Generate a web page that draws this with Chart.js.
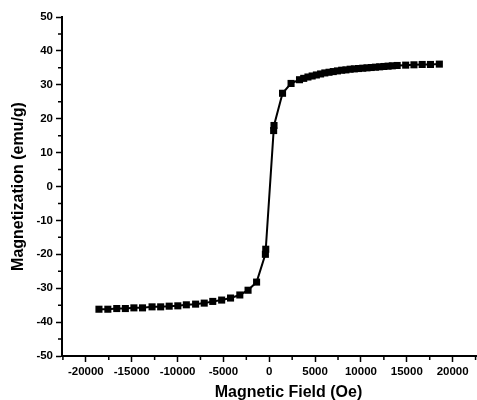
<!DOCTYPE html>
<html>
<head>
<meta charset="utf-8">
<script src="https://cdn.jsdelivr.net/npm/chart.js@4.4.1/dist/chart.umd.min.js"></script>
<style>
  html, body { margin: 0; padding: 0; background: #fff; overflow: hidden; }
  #wrap { width: 520px; height: 400px; }
</style>
</head>
<body>
<div id="wrap"><canvas id="mh" width="520" height="400"></canvas></div>
<script>
// field (Oe) and magnetization (emu/g)
const fieldOe = [
  -18570, -17600, -16630, -15690, -14760, -13820, -12780, -11840, -10910, -9970,
  -9040, -8030, -7090, -6160, -5190, -4220, -3210, -2310, -1380, -420,
  -380, 480, 520, 1450, 2380, 3300, 3760, 4220, 4680, 5140,
  5600, 6060, 6520, 6980, 7440, 7900, 8360, 8820, 9280, 9740,
  10200, 10660, 11120, 11580, 12040, 12500, 12960, 13420, 13950, 14880,
  15780, 16680, 17580, 18550
];
const magnetization = [
  -36.2, -36.2, -36.0, -36.0, -35.8, -35.8, -35.5, -35.5, -35.3, -35.2,
  -34.9, -34.7, -34.4, -33.9, -33.5, -32.9, -32.0, -30.6, -28.2, -20.0,
  -18.5, 16.5, 18.0, 27.5, 30.4, 31.5, 31.9, 32.3, 32.6, 32.9,
  33.2, 33.5, 33.7, 33.9, 34.1, 34.3, 34.4, 34.6, 34.7, 34.8,
  34.9, 35.0, 35.1, 35.2, 35.3, 35.4, 35.5, 35.6, 35.7, 35.8,
  35.9, 36.0, 36.0, 36.1
];

const xMajor = [-20000, -15000, -10000, -5000, 0, 5000, 10000, 15000, 20000];
const xMinor = [-22500, -17500, -12500, -7500, -2500, 2500, 7500, 12500, 17500, 22500];
const yMajor = [-50, -40, -30, -20, -10, 0, 10, 20, 30, 40, 50];
const yMinor = [-45, -35, -25, -15, -5, 5, 15, 25, 35, 45];

const tickFont = { family: "'Liberation Sans', Arial, sans-serif", size: 11.5, weight: 'bold' };
const titleFont = { family: "'Liberation Sans', Arial, sans-serif", size: 16, weight: 'bold', lineHeight: 1 };

// short unlabeled ticks between the labelled ones
const minorTicks = {
  id: 'minorTicks',
  afterDraw(chart) {
    const { ctx, scales: { x, y } } = chart;
    ctx.save();
    ctx.strokeStyle = '#000';
    ctx.lineWidth = 1.5;
    ctx.beginPath();
    xMinor.forEach(v => {
      const px = x.getPixelForValue(v);
      ctx.moveTo(px, x.top);
      ctx.lineTo(px, x.top + 4);
    });
    yMinor.forEach(v => {
      const py = y.getPixelForValue(v);
      ctx.moveTo(y.right, py);
      ctx.lineTo(y.right - 4, py);
    });
    ctx.stroke();
    ctx.restore();
  }
};

new Chart(document.getElementById('mh'), {
  type: 'scatter',
  data: {
    datasets: [{
      data: fieldOe.map((h, i) => ({ x: h, y: magnetization[i] })),
      showLine: true,
      borderColor: '#000',
      borderWidth: 2,
      pointStyle: 'rect',
      pointRadius: 5,
      pointBackgroundColor: '#000',
      pointBorderWidth: 0,
      tension: 0
    }]
  },
  plugins: [minorTicks],
  options: {
    responsive: false,
    animation: false,
    devicePixelRatio: 1,
    layout: { padding: { top: 17, left: 0, right: 0, bottom: 0 } },
    plugins: { legend: { display: false }, tooltip: { enabled: false } },
    scales: {
      x: {
        type: 'linear',
        min: -22600,
        max: 26800,
        afterBuildTicks(scale) { scale.ticks = xMajor.map(v => ({ value: v })); },
        afterFit(scale) { scale.height = 44; },
        ticks: { font: tickFont, color: '#000', padding: 3, maxRotation: 0, autoSkip: false,
                 callback: v => String(v) },
        grid: { drawOnChartArea: false, drawTicks: true, tickLength: 6, tickWidth: 1.5, tickColor: '#000' },
        border: { display: true, color: '#000', width: 2 },
        title: { display: true, text: 'Magnetic Field (Oe)', font: titleFont, color: '#000', padding: { top: 0, bottom: -1 } }
      },
      y: {
        min: -50,
        max: 50,
        afterBuildTicks(scale) { scale.ticks = yMajor.map(v => ({ value: v })); },
        afterFit(scale) { scale.width = 62; },
        ticks: { font: tickFont, color: '#000', padding: 3, callback: v => String(v) },
        grid: { drawOnChartArea: false, drawTicks: true, tickLength: 6, tickWidth: 1.5, tickColor: '#000' },
        border: { display: true, color: '#000', width: 2 },
        title: { display: true, text: 'Magnetization (emu/g)', font: titleFont, color: '#000', padding: { top: 11, bottom: 0 } }
      }
    }
  }
});
</script>
</body>
</html>
